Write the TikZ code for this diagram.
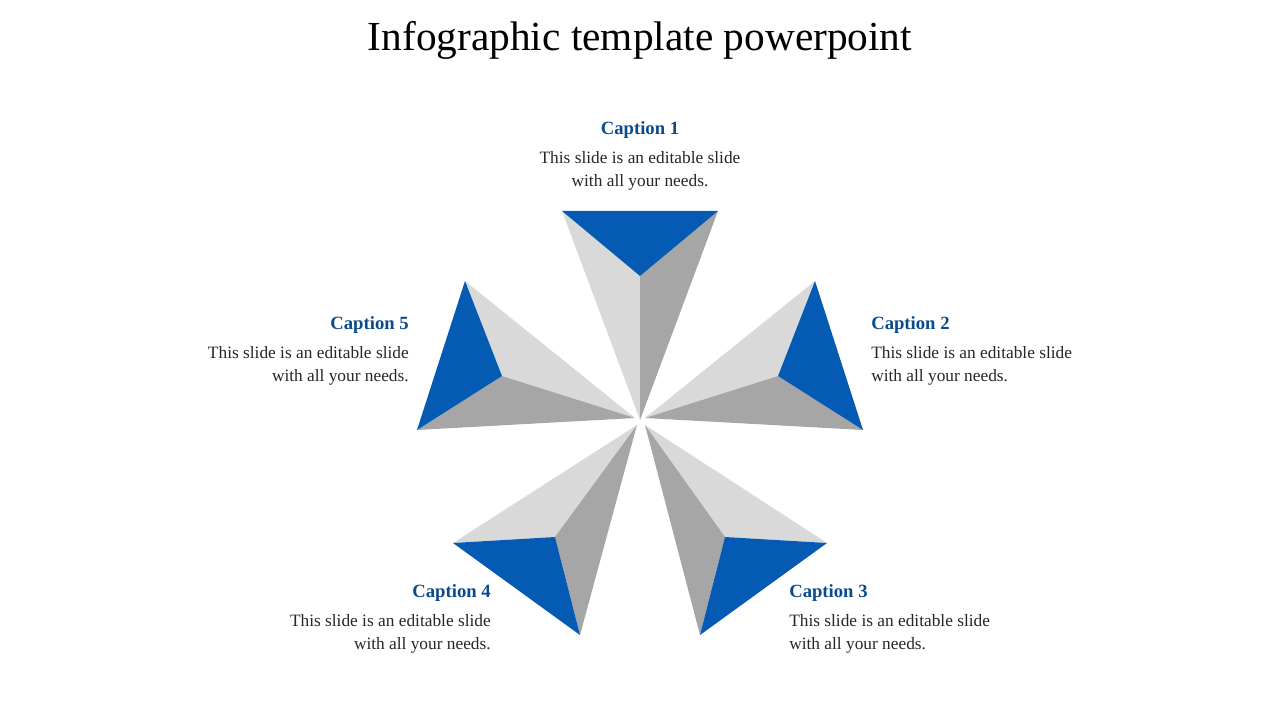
\documentclass[tikz,border=0pt]{standalone}
\usepackage{fontspec}
\setmainfont{Liberation Serif}
\definecolor{bl}{HTML}{055AB3}
\definecolor{lg}{HTML}{D9D9D9}
\definecolor{dg}{HTML}{A6A6A6}
\definecolor{cap}{HTML}{0B4A8C}
\begin{document}
\begin{tikzpicture}[x=0.75pt,y=-0.75pt,
 capt/.style={font=\fontsize{14}{16}\selectfont\bfseries,text=cap,inner sep=0},
 body/.style={font=\fontsize{13}{17}\selectfont,text=black!85,inner sep=0,align=#1},
 fl/.style={fill=lg,draw=none}, fd/.style={fill=dg,draw=none}, fb/.style={fill=bl,draw=none}]
\useasboundingbox (0,0) rectangle (1280,720);
\node[font=\fontsize{31}{36}\selectfont] (title) at (640,40) {Infographic template powerpoint};
% 1
\fill[lg] (562,211)--(640,276)--(640,420)--cycle;
\fill[dg] (718,211)--(640,276)--(640,420)--cycle;
\fill[bl] (562,211)--(718,211)--(640,276)--cycle;
% 2
\fill[lg] (815,281)--(778,376)--(645,418)--cycle;
\fill[dg] (778,376)--(863,430)--(645,418)--cycle;
\fill[bl] (815,281)--(863,430)--(778,376)--cycle;
% 3
\fill[lg] (827,543)--(725,537)--(645,425)--cycle;
\fill[dg] (725,537)--(700,635)--(645,425)--cycle;
\fill[bl] (827,543)--(700,635)--(725,537)--cycle;
% 4
\fill[lg] (453,543)--(555,537)--(637,425)--cycle;
\fill[dg] (555,537)--(580,635)--(637,425)--cycle;
\fill[bl] (453,543)--(580,635)--(555,537)--cycle;
% 5
\fill[lg] (465,281)--(502,376)--(635,418)--cycle;
\fill[dg] (502,376)--(417,430)--(635,418)--cycle;
\fill[bl] (465,281)--(417,430)--(502,376)--cycle;
% texts
\node[capt] (c1) at (640,130) {Caption 1};
\node[body=center] (b1) at (640,171) {This slide is an editable slide\\with all your needs.};
\node[capt,anchor=west] (c2) at (871,325) {Caption 2};
\node[body=left,anchor=west] (b2) at (871,366) {This slide is an editable slide\\with all your needs.};
\node[capt,anchor=west] (c3) at (789,593) {Caption 3};
\node[body=left,anchor=west] (b3) at (789,634) {This slide is an editable slide\\with all your needs.};
\node[capt,anchor=east] (c4) at (491,593) {Caption 4};
\node[body=right,anchor=east] (b4) at (491,634) {This slide is an editable slide\\with all your needs.};
\node[capt,anchor=east] (c5) at (409,325) {Caption 5};
\node[body=right,anchor=east] (b5) at (409,366) {This slide is an editable slide\\with all your needs.};
\end{tikzpicture}
\end{document}
